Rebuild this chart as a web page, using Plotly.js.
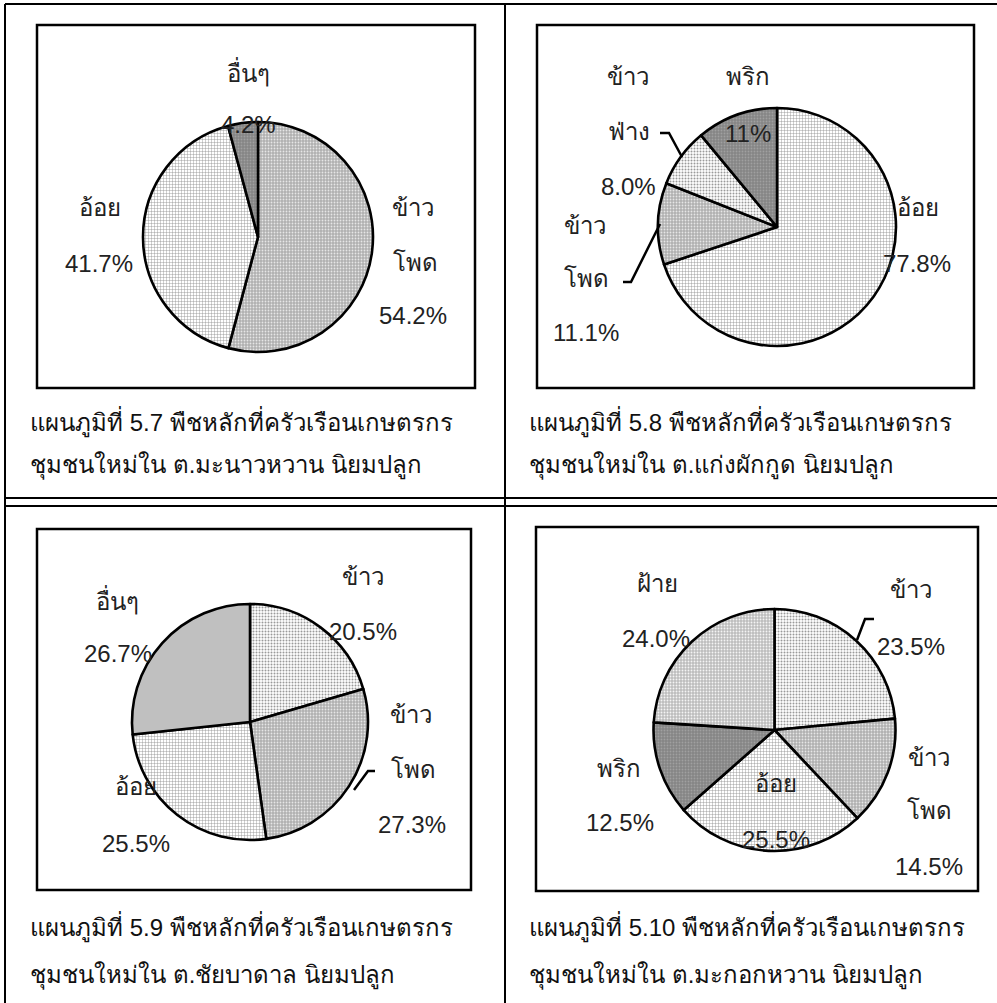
<!DOCTYPE html>
<html>
<head>
<meta charset="utf-8">
<script src="https://cdn.plot.ly/plotly-3.0.1.min.js"></script>
<style>
html,body{margin:0;padding:0;background:#fff;}
#chart{width:997px;height:1003px;}
</style>
</head>
<body>
<div id="chart"></div>
<script>
// ---------------- data ----------------
// Chart 5.7
const p57Labels = ['ข้าวโพด', 'อ้อย', 'อื่นๆ'];
const p57Values = [54.2, 41.7, 4.2];
const p57Shown  = ['54.2%', '41.7%', '4.2%'];
const p57NameLines = [['ข้าว', 'โพด'], ['อ้อย'], ['อื่นๆ']];

// Chart 5.8 (printed percentages differ slightly from slice sizes drawn)
const p58Labels = ['อ้อย', 'ข้าวโพด', 'ข้าวฟ่าง', 'พริก'];
const p58Values = [69.9, 11.1, 8.0, 11.0];
const p58Shown  = ['77.8%', '11.1%', '8.0%', '11%'];
const p58NameLines = [['อ้อย'], ['ข้าว', 'โพด'], ['ข้าว', 'ฟ่าง'], ['พริก']];

// Chart 5.9
const p59Labels = ['ข้าว', 'ข้าวโพด', 'อ้อย', 'อื่นๆ'];
const p59Values = [20.5, 27.3, 25.5, 26.7];
const p59Shown  = ['20.5%', '27.3%', '25.5%', '26.7%'];
const p59NameLines = [['ข้าว'], ['ข้าว', 'โพด'], ['อ้อย'], ['อื่นๆ']];

// Chart 5.10
const p510Labels = ['ข้าว', 'ข้าวโพด', 'อ้อย', 'พริก', 'ฝ้าย'];
const p510Values = [23.5, 14.5, 25.5, 12.5, 24.0];
const p510Shown  = ['23.5%', '14.5%', '25.5%', '12.5%', '24.0%'];
const p510NameLines = [['ข้าว'], ['ข้าว', 'โพด'], ['อ้อย'], ['พริก'], ['ฝ้าย']];

const captions = [
  ['แผนภูมิที่ 5.7 พืชหลักที่ครัวเรือนเกษตรกร', 'ชุมชนใหม่ใน ต.มะนาวหวาน นิยมปลูก'],
  ['แผนภูมิที่ 5.8 พืชหลักที่ครัวเรือนเกษตรกร', 'ชุมชนใหม่ใน ต.แก่งผักกูด นิยมปลูก'],
  ['แผนภูมิที่ 5.9 พืชหลักที่ครัวเรือนเกษตรกร', 'ชุมชนใหม่ใน ต.ชัยบาดาล นิยมปลูก'],
  ['แผนภูมิที่ 5.10 พืชหลักที่ครัวเรือนเกษตรกร', 'ชุมชนใหม่ใน ต.มะกอกหวาน นิยมปลูก']
];

// ---------------- styling / layout ----------------
const W = 997, H = 1003;
const fx = x => x / W;
const fy = y => 1 - y / H;

// fill styles
const FILL = {
  grid:     {color: '#e4e4e4', pattern: {shape: '+', bgcolor: '#ffffff', fgcolor: '#8c8c8c', size: 3, solidity: 0.25}},
  dotLight: {color: '#e0e0e0', pattern: {shape: '.', bgcolor: '#ffffff', fgcolor: '#9a9a9a', size: 3, solidity: 0.35}},
  dotMid:   {color: '#c4c4c4', pattern: {shape: '.', bgcolor: '#b0b0b0', fgcolor: '#e6e6e6', size: 3, solidity: 0.3}},
  dotFan:   {color: '#d0d0d0', pattern: {shape: '.', bgcolor: '#bdbdbd', fgcolor: '#f4f4f4', size: 3, solidity: 0.3}},
  dark:     {color: '#8f8f8f', pattern: {shape: '.', bgcolor: '#858585', fgcolor: '#a0a0a0', size: 3, solidity: 0.3}},
  solidGray:{color: '#c0c0c0', pattern: {shape: ''}}
};

const panels = [
  {labels: p57Labels, values: p57Values, shown: p57Shown, names: p57NameLines,
   cx: 258, cy: 237, r: 115,
   fills: ['dotMid', 'grid', 'dark'],
   pos: [[[413,208],[415,262],[413,315]], [[100,208],[99,263]], [[248,72],[248,125]]]},
  {labels: p58Labels, values: p58Values, shown: p58Shown, names: p58NameLines,
   cx: 777, cy: 227, r: 119,
   fills: ['grid', 'dotMid', 'dotLight', 'dark'],
   pos: [[[918,208],[917,263]], [[585,225],[586,278],[586,333]], [[628,77],[629,131],[628,187]], [[748,77],[748,133]]]},
  {labels: p59Labels, values: p59Values, shown: p59Shown, names: p59NameLines,
   cx: 250, cy: 722, r: 118,
   fills: ['dotLight', 'dotMid', 'grid', 'solidGray'],
   pos: [[[363,576],[363,631]], [[411,714],[413,769],[412,824]], [[136,786],[136,843]], [[117,600],[118,653]]]},
  {labels: p510Labels, values: p510Values, shown: p510Shown, names: p510NameLines,
   cx: 774.5, cy: 730, r: 121,
   fills: ['dotLight', 'dotMid', 'grid', 'dark', 'dotFan'],
   pos: [[[911,589],[911,646]], [[929,757],[929,810],[929,866]], [[776,783],[776,839]], [[619,768],[620,822]], [[657,583],[656,638]]]}
];

const captionPos = [[28, 422, 466], [527, 422, 466], [28, 927, 975], [527, 927, 975]];

const FONT = 'Arial, "Liberation Sans", "Noto Sans", sans-serif';

const traces = panels.map(p => ({
  type: 'pie',
  labels: p.labels,
  values: p.values,
  sort: false,
  direction: 'clockwise',
  rotation: 0,
  textinfo: 'none',
  hoverinfo: 'label+percent',
  domain: {x: [fx(p.cx - p.r), fx(p.cx + p.r)], y: [fy(p.cy + p.r), fy(p.cy - p.r)]},
  marker: {
    colors: p.fills.map(f => FILL[f].color),
    pattern: {
      shape: p.fills.map(f => FILL[f].pattern.shape),
      bgcolor: p.fills.map(f => FILL[f].pattern.bgcolor || FILL[f].color),
      fgcolor: p.fills.map(f => FILL[f].pattern.fgcolor || FILL[f].color),
      size: p.fills.map(f => FILL[f].pattern.size || 3),
      solidity: p.fills.map(f => FILL[f].pattern.solidity || 0.3)
    },
    line: {color: '#000', width: 2.6}
  }
}));

const annotations = [];
panels.forEach(p => {
  p.labels.forEach((lab, i) => {
    const lines = p.names[i].concat([p.shown[i]]);
    lines.forEach((t, j) => {
      const xy = p.pos[i][j];
      annotations.push({
        xref: 'paper', yref: 'paper', x: fx(xy[0]), y: fy(xy[1]),
        xanchor: 'center', yanchor: 'middle', showarrow: false,
        text: t, font: {family: FONT, size: 24, color: '#222'}
      });
    });
  });
});
captions.forEach((c, k) => {
  const cp = captionPos[k];
  annotations.push({xref: 'paper', yref: 'paper', x: fx(cp[0]), y: fy(cp[1]), xanchor: 'left', yanchor: 'middle',
    showarrow: false, text: c[0], font: {family: FONT, size: 24, color: '#111'}});
  annotations.push({xref: 'paper', yref: 'paper', x: fx(cp[0]), y: fy(cp[2]), xanchor: 'left', yanchor: 'middle',
    showarrow: false, text: c[1], font: {family: FONT, size: 24, color: '#111'}});
});

function line(x0, y0, x1, y1, w) {
  return {type: 'line', xref: 'paper', yref: 'paper', x0: fx(x0), y0: fy(y0), x1: fx(x1), y1: fy(y1),
    line: {color: '#000', width: w || 2}};
}
function rect(x0, y0, x1, y1) {
  return {type: 'rect', xref: 'paper', yref: 'paper', x0: fx(x0), y0: fy(y1), x1: fx(x1), y1: fy(y0),
    line: {color: '#000', width: 2.5}, fillcolor: 'rgba(0,0,0,0)'};
}
function path(pts) {
  return {type: 'path', xref: 'paper', yref: 'paper',
    path: pts.map((pt, i) => (i ? 'L' : 'M') + fx(pt[0]) + ',' + fy(pt[1])).join(' '),
    line: {color: '#000', width: 2.5}};
}

const shapes = [
  line(5, 4, 997, 4), line(5, 4, 5, 1003), line(505, 4, 505, 1003),
  line(5, 498, 997, 498), line(5, 506, 997, 506),
  rect(37, 25, 475, 388), rect(537, 25, 974, 388),
  rect(37, 529, 471, 890), rect(536, 527, 978, 891),
  path([[660,133],[669,133],[682,157]]),
  path([[623,282],[631,282],[660,224]]),
  path([[375,771],[368,771],[354,790]]),
  path([[874,619],[865,619],[857,640]])
];

const layout = {
  width: W, height: H,
  margin: {l: 0, r: 0, t: 0, b: 0},
  paper_bgcolor: '#fff',
  showlegend: false,
  annotations: annotations,
  shapes: shapes
};

Plotly.newPlot('chart', traces, layout, {displayModeBar: false, staticPlot: true});
</script>
</body>
</html>
